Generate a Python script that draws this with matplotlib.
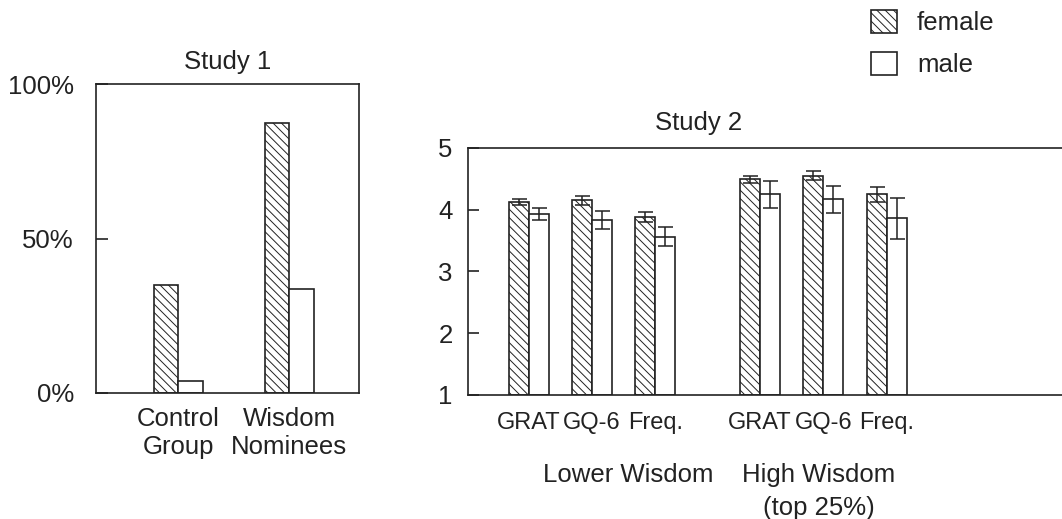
import numpy as np
from matplotlib import pyplot as plt
import matplotlib as mpl
from matplotlib.patches import Patch

plt.rcParams['font.family'] = ['Liberation Sans', 'DejaVu Sans']
plt.rcParams['font.size'] = 18.5
plt.rcParams['hatch.linewidth'] = 0.7
plt.rcParams['hatch.color'] = '#222222'

# Study 1: percentages
s1_groups = ['Control\nGroup', 'Wisdom\nNominees']
s1_female = [35, 87.5]
s1_male = [4, 33.5]

# Study 2: means and error bars
s2_labels = ['GRAT', 'GQ-6', 'Freq.', 'GRAT', 'GQ-6', 'Freq.']
s2_female = [4.13, 4.15, 3.88, 4.49, 4.55, 4.25]
s2_female_err = [0.05, 0.07, 0.08, 0.06, 0.07, 0.12]
s2_male = [3.93, 3.84, 3.56, 4.25, 4.17, 3.86]
s2_male_err = [0.10, 0.145, 0.155, 0.22, 0.22, 0.33]
s2_pos = [0, 1, 2, 3.65, 4.65, 5.65]

ink = '#222222'
hatch = '\\' * 4
W, H = 1062, 519
fig = plt.figure(figsize=(W/100, H/100), dpi=100)

#Study 1
ax1 = fig.add_axes([96/W, (H-393)/H, 263/W, 309/H])
x1 = np.arange(len(s1_groups))
bw1 = 0.22
ax1.bar(x1 - bw1/2, s1_female, bw1, facecolor='white', edgecolor=ink,
        hatch=hatch, linewidth=1.2)
ax1.bar(x1 + bw1/2, s1_male, bw1, facecolor='white', edgecolor=ink, linewidth=1.2)
ax1.set_xlim(-0.74, 1.63)
ax1.set_ylim(0, 100)
ax1.set_yticks([0, 50, 100])
ax1.set_yticklabels(['0%', '50%', '100%'])
ax1.set_xticks(x1)
ax1.set_xticklabels(s1_groups, linespacing=1.2)
ax1.tick_params(axis='y', direction='in', length=8.6, width=1.2, pad=16, colors=ink)
ax1.tick_params(axis='x', length=0, pad=10, colors=ink)
ax1.text(0.5, 1.071, 'Study 1', transform=ax1.transAxes, ha='center', va='center',
         color=ink)
for s in ax1.spines.values():
    s.set_linewidth(1.2)
    s.set_color(ink)

#Study 2
ax2 = fig.add_axes([468/W, (H-395)/H, (W-468)/W, 247/H])
x2 = np.array(s2_pos)
bw2 = 0.315
ekw = dict(ecolor=ink, elinewidth=1.1, capthick=1.1)
ax2.bar(x2 - bw2/2, np.array(s2_female) - 1, bw2, bottom=1, facecolor='white',
        edgecolor=ink, hatch=hatch, linewidth=1.2,
        yerr=s2_female_err, capsize=5.4, error_kw=ekw)
ax2.bar(x2 + bw2/2, np.array(s2_male) - 1, bw2, bottom=1, facecolor='white',
        edgecolor=ink, linewidth=1.2,
        yerr=s2_male_err, capsize=5.4, error_kw=ekw)
ax2.set_xlim(-0.96, 8.42)
ax2.set_ylim(1, 5)
ax2.set_yticks([1, 2, 3, 4, 5])
ax2.set_xticks(x2)
ax2.set_xticklabels(s2_labels, fontsize=17)
ax2.tick_params(axis='y', direction='in', length=8, width=1.2, pad=11, colors=ink)
ax2.tick_params(axis='x', length=0, pad=12, colors=ink)
ax2.spines['right'].set_visible(False)
for s in ax2.spines.values():
    s.set_linewidth(1.2)
    s.set_color(ink)
ax2.text(2.68, 5.40, 'Study 2', ha='center', va='center', color=ink)
ax2.text(1.575, -0.30, 'Lower Wisdom', ha='center', va='center', color=ink)
ax2.text(4.58, -0.30, 'High Wisdom', ha='center', va='center', color=ink)
ax2.text(4.58, -0.83, '(top 25%)', ha='center', va='center', color=ink)
for t in ax2.texts:
    t.set_clip_on(False)

handles = [Patch(facecolor='white', edgecolor=ink, hatch=hatch, linewidth=1.2),
           Patch(facecolor='white', edgecolor=ink, linewidth=1.2)]
fig.legend(handles, ['female', 'male'], loc='upper left',
           bbox_to_anchor=(858/W, 1 + 3/H), frameon=False, borderpad=0,
           handlelength=1.0, handleheight=1.0, handletextpad=0.8,
           labelspacing=0.65, labelcolor=ink)

fig.savefig('out.png', dpi=100)
